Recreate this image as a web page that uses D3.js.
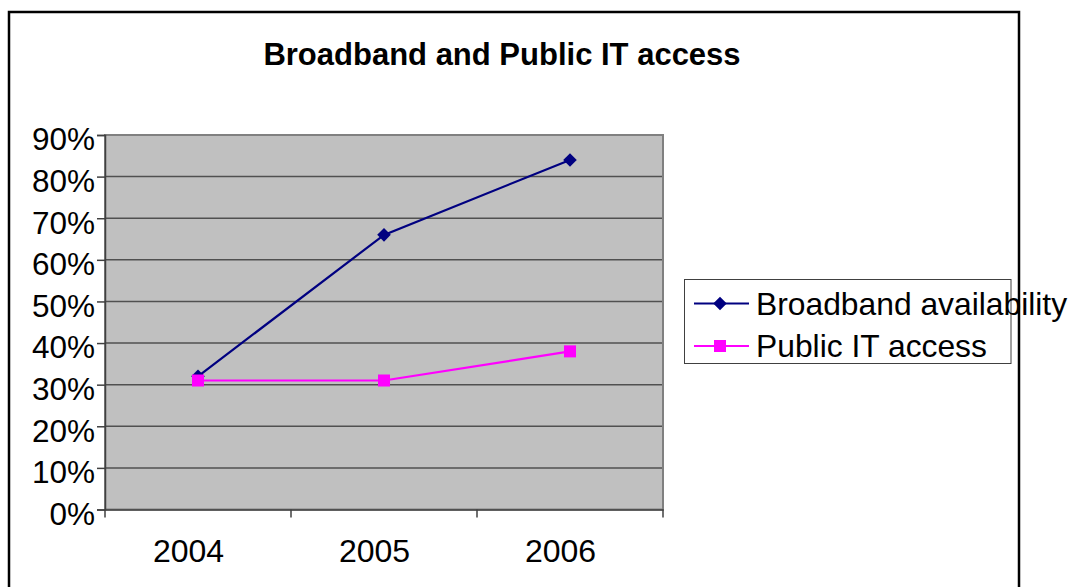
<!DOCTYPE html>
<html>
<head>
<meta charset="utf-8">
<script src="https://cdn.jsdelivr.net/npm/d3@7"></script>
<style>
html,body{margin:0;padding:0;background:#fff;}
svg{display:block;font-family:"Liberation Sans",Arial,sans-serif;}
</style>
</head>
<body>
<svg id="chart" width="1070" height="587"></svg>
<script>
const title = "Broadband and Public IT access";
const categories = ["2004", "2005", "2006"];
const seriesNames = ["Broadband availability", "Public IT access"];
const broadband = [0.32, 0.66, 0.84];
const publicIT = [0.31, 0.31, 0.38];
const yTicks = [0, 0.1, 0.2, 0.3, 0.4, 0.5, 0.6, 0.7, 0.8, 0.9];
const colors = ["#000080", "#FF00FF"];

const svg = d3.select("#chart");
const plot = {left: 105, right: 663, top: 135, bottom: 509.5};

// outer border
svg.append("rect").attr("x", 9).attr("y", 12).attr("width", 1010).attr("height", 600)
  .attr("fill", "none").attr("stroke", "#000").attr("stroke-width", 2.5);

svg.append("text").attr("x", 502).attr("y", 65).attr("text-anchor", "middle")
  .attr("font-size", 31).attr("font-weight", "bold").text(title);

const x = d3.scaleBand().domain(categories).range([plot.left, plot.right]).padding(0);
const y = d3.scaleLinear().domain([0, 0.9]).range([plot.bottom, plot.top]);

// plot background
svg.append("rect").attr("x", plot.left).attr("y", plot.top)
  .attr("width", plot.right - plot.left).attr("height", plot.bottom - plot.top)
  .attr("fill", "#C0C0C0");

// gridlines
svg.append("g").selectAll("line").data(yTicks.slice(1)).join("line")
  .attr("x1", plot.left).attr("x2", plot.right)
  .attr("y1", d => y(d)).attr("y2", d => y(d))
  .attr("stroke", "#505050").attr("stroke-width", 1.5);

// plot border
svg.append("rect").attr("x", plot.left).attr("y", plot.top)
  .attr("width", plot.right - plot.left).attr("height", plot.bottom - plot.top)
  .attr("fill", "none").attr("stroke", "#808080").attr("stroke-width", 2);

// y axis
const yAxis = d3.axisLeft(y).tickValues(yTicks).tickFormat(d3.format(".0%")).tickSize(8).tickPadding(2);
const gy = svg.append("g").attr("transform", `translate(${plot.left},0)`).call(yAxis);
gy.select(".domain").attr("stroke", "#404040").attr("stroke-width", 1.5);
gy.selectAll(".tick line").attr("stroke", "#404040").attr("stroke-width", 1.5);
gy.selectAll(".tick text").attr("font-size", 31.5).attr("fill", "#000")
  .attr("font-family", "Liberation Sans, Arial, sans-serif").attr("dy", "0.47em");

// x axis
const xAxis = d3.axisBottom(x).tickSize(0).tickPadding(0);
const gx = svg.append("g").attr("transform", `translate(0,${plot.bottom})`).call(xAxis);
gx.select(".domain").attr("stroke", "#404040").attr("stroke-width", 1.5);
gx.selectAll(".tick text").attr("font-size", 32).attr("fill", "#000")
  .attr("font-family", "Liberation Sans, Arial, sans-serif")
  .attr("dy", 0).attr("y", 52.5).attr("x", -9.5);
// x tick marks at category boundaries
const bounds = categories.map(c => x(c)).concat([x(categories[categories.length-1]) + x.bandwidth()]);
svg.append("g").selectAll("line").data(bounds).join("line")
  .attr("x1", d => d).attr("x2", d => d).attr("y1", plot.bottom).attr("y2", plot.bottom + 8)
  .attr("stroke", "#404040").attr("stroke-width", 1.5);

const cx = c => x(c) + x.bandwidth() / 2;
const line = d3.line().x((d, i) => cx(categories[i])).y(d => y(d));

// series lines
[broadband, publicIT].forEach((s, k) => {
  svg.append("path").datum(s).attr("d", line).attr("fill", "none")
    .attr("stroke", colors[k]).attr("stroke-width", 2.2);
});

const diamond = d3.symbol().type(d3.symbolSquare).size(92);
// broadband markers (diamond = rotated square)
svg.append("g").selectAll("path").data(broadband).join("path")
  .attr("d", diamond)
  .attr("transform", (d, i) => `translate(${cx(categories[i])},${y(d)}) rotate(45)`)
  .attr("fill", colors[0]);
// public IT markers
svg.append("g").selectAll("rect").data(publicIT).join("rect")
  .attr("x", (d, i) => cx(categories[i]) - 6).attr("y", d => y(d) - 6)
  .attr("width", 12).attr("height", 12).attr("fill", colors[1]);

// legend
const lg = svg.append("g");
lg.append("rect").attr("x", 684.5).attr("y", 279.5).attr("width", 326.5).attr("height", 84)
  .attr("fill", "#fff").attr("stroke", "#404040").attr("stroke-width", 1);
const rows = [303.5, 346];
seriesNames.forEach((name, k) => {
  const ry = rows[k];
  lg.append("line").attr("x1", 694).attr("x2", 749).attr("y1", ry).attr("y2", ry)
    .attr("stroke", colors[k]).attr("stroke-width", 2.2);
  if (k === 0) {
    lg.append("path").attr("d", diamond).attr("transform", `translate(720,${ry}) rotate(45)`).attr("fill", colors[0]);
  } else {
    lg.append("rect").attr("x", 714).attr("y", ry - 6).attr("width", 12).attr("height", 12).attr("fill", colors[1]);
  }
  lg.append("text").attr("x", 756).attr("y", ry + 11).attr("font-size", 31.8).attr("fill", "#000").text(name);
});
</script>
</body>
</html>
